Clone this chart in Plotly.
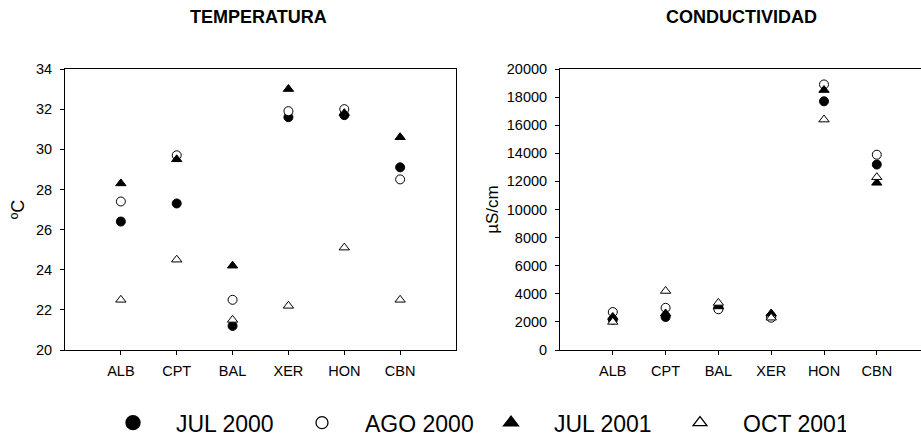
import plotly.graph_objects as go

# Sampling sites
sites = ["ALB", "CPT", "BAL", "XER", "HON", "CBN"]

# Water temperature (ºC) per campaign
temp_jul2000 = [26.4, 27.3, 21.2, 31.6, 31.7, 29.1]
temp_ago2000 = [27.4, 29.7, 22.5, 31.9, 32.0, 28.5]
temp_jul2001 = [28.3, 29.5, 24.2, 33.0, 31.8, 30.6]
temp_oct2001 = [22.5, 24.5, 21.5, 22.2, 25.1, 22.5]

# Conductivity (µS/cm) per campaign
cond_jul2000 = [2150, 2350, 3000, 2400, 17700, 13200]
cond_ago2000 = [2700, 3000, 2900, 2300, 18900, 13900]
cond_jul2001 = [2350, 2600, 3100, 2600, 18500, 11900]
cond_oct2001 = [2000, 4200, 3350, 2300, 16400, 12300]

campaigns = ["JUL 2000", "AGO 2000", "JUL 2001", "OCT 2001"]

W, H = 921, 437
TOP, BOTTOM = 69, 350          # plot area edges in px
PH = BOTTOM - TOP
FONT = "Liberation Sans, Arial, sans-serif"


def py(px):
    """Pixel row -> paper y (paper spans the plot area)."""
    return (BOTTOM - px) / PH


styles = [
    dict(symbol="circle", color="black"),
    dict(symbol="circle", color="white"),
    dict(symbol="triangle-up", color="black"),
    dict(symbol="triangle-up", color="white"),
]

fig = go.Figure()

temp_series = [temp_jul2000, temp_ago2000, temp_jul2001, temp_oct2001]
cond_series = [cond_jul2000, cond_ago2000, cond_jul2001, cond_oct2001]

for name, vals, st in zip(campaigns, temp_series, styles):
    fig.add_trace(go.Scatter(
        x=sites, y=vals, mode="markers", name=name, showlegend=False,
        marker=dict(size=9, line=dict(color="black", width=1), **st),
        xaxis="x", yaxis="y",
    ))
for name, vals, st in zip(campaigns, cond_series, styles):
    fig.add_trace(go.Scatter(
        x=sites, y=vals, mode="markers", name=name, showlegend=False,
        marker=dict(size=9, line=dict(color="black", width=1), **st),
        xaxis="x2", yaxis="y2",
    ))

# Legend entries with larger symbols
legend_sizes = [14, 12, 13, 12]
for name, st, sz in zip(campaigns, styles, legend_sizes):
    fig.add_trace(go.Scatter(
        x=[None], y=[None], mode="markers", name=name, showlegend=True,
        marker=dict(size=sz, line=dict(color="black", width=1.3), **st),
        xaxis="x", yaxis="y",
    ))

axis_common = dict(
    showline=True, linecolor="black", linewidth=1,
    ticks="outside", ticklen=4, tickcolor="black", tickwidth=1,
    showgrid=False, zeroline=False, automargin=False,
    tickfont=dict(family=FONT, size=14.5, color="black"),
)

fig.update_layout(
    width=W, height=H,
    margin=dict(l=0, r=0, t=TOP, b=H - BOTTOM, autoexpand=False),
    paper_bgcolor="white", plot_bgcolor="white",
    font=dict(family=FONT, color="black"),
    xaxis=dict(domain=[65 / W, 456 / W], type="category", range=[-1, 6],
               mirror=True, anchor="y", ticklabelstandoff=4, **axis_common),
    yaxis=dict(range=[20, 34], dtick=2, mirror=True, anchor="x",
               ticklabelstandoff=5,
               title=dict(text="ºC", font=dict(family=FONT, size=18, color="black"),
                          standoff=6),
               **axis_common),
    xaxis2=dict(domain=[560 / W, 1.0], type="category", range=[-1, 5.837],
                mirror=True, anchor="y2", ticklabelstandoff=4, **axis_common),
    yaxis2=dict(range=[0, 20000], dtick=2000, mirror=False, anchor="x2",
                ticklabelstandoff=5, tickformat="d", exponentformat="none",
                title=dict(text="µS/cm", font=dict(family=FONT, size=17, color="black"),
                           standoff=3),
                **axis_common),
    showlegend=True,
    legend=dict(
        orientation="h", x=90 / W, xanchor="left",
        y=py(422.7), yanchor="middle",
        font=dict(family=FONT, size=23, color="black"),
        itemwidth=76, entrywidth=98, entrywidthmode="pixels",
        bgcolor="rgba(0,0,0,0)", borderwidth=0,
    ),
    annotations=[
        dict(text="<b>TEMPERATURA</b>", x=258 / W, y=py(17.5),
             xref="paper", yref="paper", xanchor="center", yanchor="middle",
             showarrow=False, font=dict(family=FONT, size=18, color="black")),
        dict(text="<b>CONDUCTIVIDAD</b>", x=741 / W, y=py(17.5),
             xref="paper", yref="paper", xanchor="center", yanchor="middle",
             showarrow=False, font=dict(family=FONT, size=18, color="black")),
    ],
)

fig.write_html("out.html")
